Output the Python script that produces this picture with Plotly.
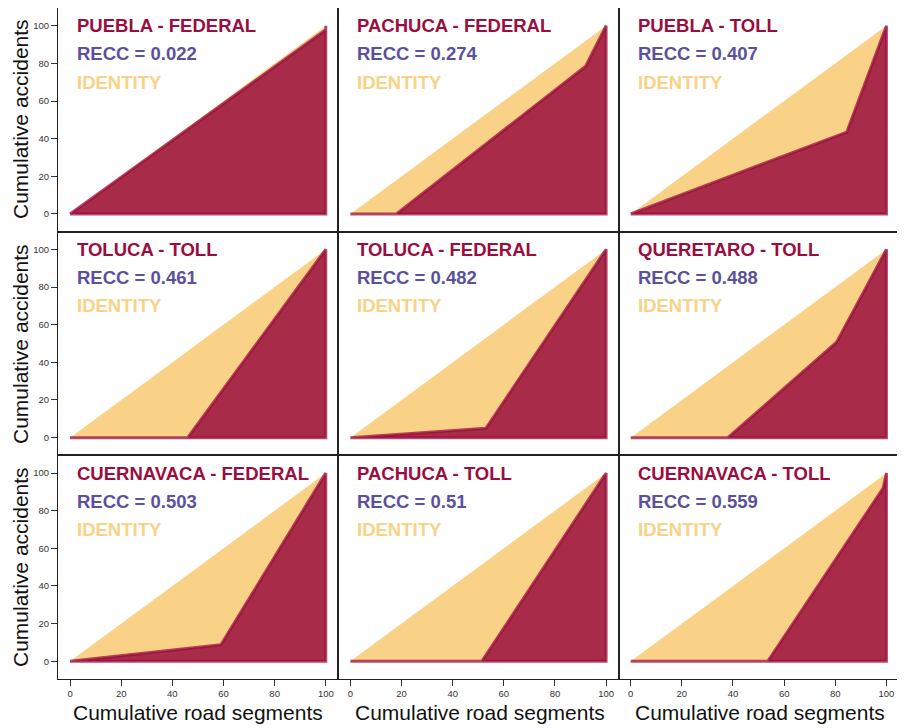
import plotly.graph_objects as go
from plotly.subplots import make_subplots

# ---- data ----
panel_titles = ["PUEBLA - FEDERAL", "PACHUCA - FEDERAL", "PUEBLA - TOLL",
                "TOLUCA - TOLL", "TOLUCA - FEDERAL", "QUERETARO - TOLL",
                "CUERNAVACA - FEDERAL", "PACHUCA - TOLL", "CUERNAVACA - TOLL"]
recc_values = [0.022, 0.274, 0.407, 0.461, 0.482, 0.488, 0.503, 0.51, 0.559]
curve_x = [
    [0, 100, 100],
    [0, 18, 92, 100],
    [0, 84.5, 100],
    [0, 46, 100],
    [0, 53, 100],
    [0, 38, 80.5, 100],
    [0, 59, 100],
    [0, 51.4, 100],
    [0, 53.6, 98.7, 100],
]
curve_y = [
    [0, 97.8, 100],
    [0, 0, 78.5, 100],
    [0, 43.5, 100],
    [0, 0, 100],
    [0, 5, 100],
    [0, 0, 50.7, 100],
    [0, 8.8, 100],
    [0, 0, 100],
    [0, 0, 92, 100],
]
tick_vals = [0, 20, 40, 60, 80, 100]
x_title = "Cumulative road segments"
y_title = "Cumulative accidents"

# ---- styles ----
FONT = "Liberation Sans, Arial, sans-serif"
CRIMSON = "#9B0D3F"
PURPLE = "#5B519C"
YELLOW = "#F9D287"
FILL = "#A92B4A"
OFF = 8  # page body margin
W, H = 897, 720
ML, MR, MT, MB = 50, 6, 0, 49
PW, PH = W - ML - MR, H - MT - MB

fig = make_subplots(rows=3, cols=3, horizontal_spacing=0, vertical_spacing=0)

for i in range(9):
    r, c = i // 3 + 1, i % 3 + 1
    fig.add_trace(go.Scatter(x=[0, 100, 100, 0], y=[0, 100, 0, 0], fill="toself",
                             fillcolor=YELLOW, line=dict(width=0), mode="lines",
                             hoverinfo="skip", showlegend=False), row=r, col=c)
    px = list(curve_x[i]) + [100, 0]
    py = list(curve_y[i]) + [0, 0]
    fig.add_trace(go.Scatter(x=px, y=py, fill="toself", fillcolor=FILL,
                             line=dict(color="rgba(155,13,63,0.75)", width=3),
                             mode="lines", showlegend=False), row=r, col=c)
    xa = "x" if i == 0 else f"x{i+1}"
    ya = "y" if i == 0 else f"y{i+1}"
    fig.add_annotation(x=2, y=100, xref=xa, yref=ya, text=f"<b>{panel_titles[i]}</b>",
                       showarrow=False, xanchor="left", yanchor="middle",
                       font=dict(family=FONT, size=18.5, color=CRIMSON))
    fig.add_annotation(x=2, y=85, xref=xa, yref=ya, text=f"<b>RECC = {recc_values[i]}</b>",
                       showarrow=False, xanchor="left", yanchor="middle",
                       font=dict(family=FONT, size=18.5, color=PURPLE))
    fig.add_annotation(x=2, y=70, xref=xa, yref=ya, text="<b>IDENTITY</b>",
                       showarrow=False, xanchor="left", yanchor="middle",
                       font=dict(family=FONT, size=18.5, color=YELLOW))

fig.update_xaxes(range=[-4.7, 104.9], showgrid=False, zeroline=False, automargin=False,
                 showline=True, mirror=True, linecolor="#222", linewidth=1,
                 tickvals=tick_vals, ticks="", showticklabels=False)
fig.update_yaxes(range=[-9.4, 109.4], showgrid=False, zeroline=False, automargin=False,
                 showline=True, mirror=True, linecolor="#222", linewidth=1,
                 tickvals=tick_vals, ticks="", showticklabels=False)
for c in range(1, 4):
    fig.update_xaxes(ticks="outside", ticklen=6, tickcolor="#333", showticklabels=True,
                     tickfont=dict(family=FONT, size=9.5, color="#333"), row=3, col=c)
for r in range(1, 4):
    fig.update_yaxes(ticks="outside", ticklen=6, tickcolor="#333", showticklabels=True,
                     tickfont=dict(family=FONT, size=9.5, color="#333"), row=r, col=1)

# axis titles (reference pixel positions converted to paper coords)
row_centers = [119, 344, 567]
col_centers = [198, 480, 760]
for yc in row_centers:
    fig.add_annotation(x=(20 - OFF - ML) / PW, y=1 - (yc - OFF - MT) / PH,
                       xref="paper", yref="paper",
                       text=y_title, textangle=-90, showarrow=False,
                       xanchor="center", yanchor="middle",
                       font=dict(family=FONT, size=21, color="#111"))
for xc in col_centers:
    fig.add_annotation(x=(xc - OFF - ML) / PW, y=1 - (713 - OFF - MT) / PH,
                       xref="paper", yref="paper",
                       text=x_title, showarrow=False, xanchor="center", yanchor="middle",
                       font=dict(family=FONT, size=21, color="#111"))

fig.update_layout(width=W, height=H, plot_bgcolor="white", paper_bgcolor="white",
                  margin=dict(l=ML, r=MR, t=MT, b=MB, autoexpand=False), showlegend=False)
fig.write_html("out.html")
